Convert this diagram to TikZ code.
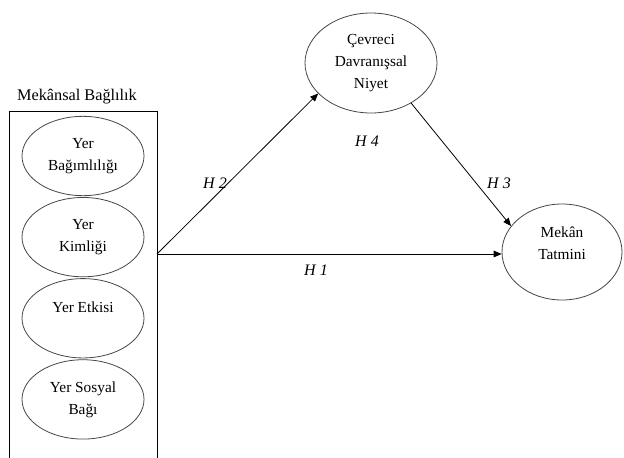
\documentclass[tikz,border=0pt]{standalone}
\usepackage{fontspec}
\setmainfont{Liberation Serif}
\usetikzlibrary{shapes.geometric,arrows.meta,positioning}
\definecolor{rimgray}{RGB}{70,70,70}

\begin{document}
\begin{tikzpicture}[
        x=0.75pt, y=-0.75pt,
        node distance=0.75pt,
        font=\fontsize{11.5}{16.5}\selectfont,
        dim/.style={ellipse, draw=rimgray, line width=0.6pt, inner sep=1pt, align=center, minimum width=91.5pt, minimum height=59.5pt},
        bigdim/.style={dim, minimum width=99pt, minimum height=75pt},
        outdim/.style={dim, minimum width=90pt, minimum height=72pt},
        hyp/.style={font=\fontsize{12}{14}\selectfont\itshape, inner sep=1pt},
        arrow/.style={-{Triangle[length=6pt,width=5pt]}, line width=0.6pt}
    ]
        \useasboundingbox (0,0) rectangle (624,457);

        % box of the four sub-dimensions
        \node[font=\fontsize{12.2}{15}\selectfont] (title) at (77,97) {Mekânsal Bağlılık};
        \draw[line width=0.6pt] (9,462) |- (157,111) -- (157,462);

        \node[dim] (bag) at (83,156) {Yer\\Bağımlılığı};
        \node[dim, below=of bag] (kim) {Yer\\Kimliği};
        \node[dim, below=of kim] (etk) {Yer Etkisi\\\mbox{}};
        \node[dim, below=of etk] (sos) {Yer Sosyal\\Bağı};

        \node[bigdim] (cdn) at (371,63) {Çevreci\\Davranışsal\\Niyet};
        \node[outdim] (tat) at (562,252) {Mekân\\Tatmini\\[-3pt]\mbox{}};

        \coordinate (src) at (157,254);
        \draw[arrow] (src) -- (tat.west |- src);
        \draw[arrow] (src) -- (cdn.210);
        \draw[arrow] (cdn.-45) -- (tat.153);

        \node[hyp] (h1) at (316,270) {H 1};
        \node[hyp] (h2) at (215,183) {H 2};
        \node[hyp] (h3) at (499,183) {H 3};
        \node[hyp] (h4) at (367,141) {H 4};
    \end{tikzpicture}
\end{document}
